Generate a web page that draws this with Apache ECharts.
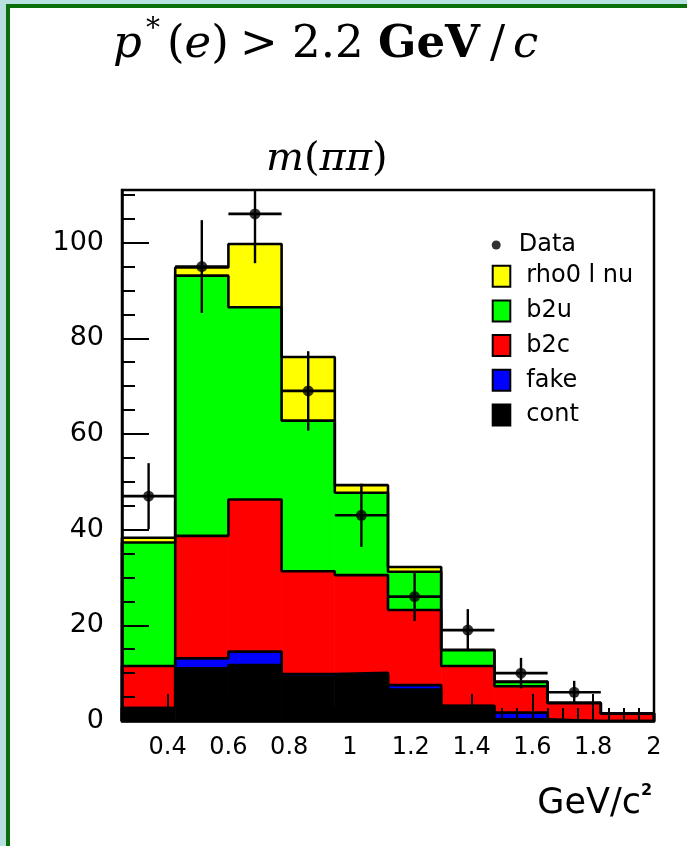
<!DOCTYPE html>
<html><head><meta charset="utf-8">
<script src="https://cdn.jsdelivr.net/npm/echarts@6/dist/echarts.min.js"></script>
<style>html,body{margin:0;padding:0;background:#fff}#c{width:687px;height:846px}</style>
</head><body><div id="c"></div>
<script>
// ---- data ----
const binEdges   = [0.25, 0.425, 0.6, 0.775, 0.95, 1.125, 1.3, 1.475, 1.65, 1.825, 2.0];
const cont       = [2.7, 11.0, 11.7, 9.3, 9.6, 6.6, 3.1, 0.35, 0, 0];
const fake       = [0, 2.1, 2.8, 0.5, 0.5, 0.9, 0.1, 1.4, 0, 0];
const b2c        = [8.8, 25.6, 31.8, 21.5, 20.4, 15.7, 8.3, 5.5, 3.7, 1.6];
const b2u        = [25.8, 54.4, 40.2, 31.5, 17.2, 8.0, 3.3, 0.9, 0.1, 0];
const rho0lnu    = [1.0, 1.7, 13.2, 13.3, 1.6, 1.0, 0.1, 0.1, 0, 0];
const dataCounts = [47, 95, 106, 69, 43, 26, 19, 10, 6, null];
const dataErrors = [6.9, 9.7, 10.3, 8.3, 6.6, 5.1, 4.4, 3.2, 2.4, null];
const xTickLabels = [0.4, 0.6, 0.8, 1.0, 1.2, 1.4, 1.6, 1.8, 2.0];
const xMinorTicks = [0.3, 0.35, 0.45, 0.5, 0.55, 0.65, 0.7, 0.75, 0.85, 0.9, 0.95, 1.05, 1.1, 1.15,
                     1.25, 1.3, 1.35, 1.45, 1.5, 1.55, 1.65, 1.7, 1.75, 1.85, 1.9, 1.95];
const yTickLabels = [0, 20, 40, 60, 80, 100];
const yMinorTicks = [5, 10, 15, 25, 30, 35, 45, 50, 55, 65, 70, 75, 85, 90, 95, 105, 110];
const X_MIN = 0.25, X_MAX = 2.0, Y_MIN = 0, Y_MAX = 111;

const components = [
  {name: 'cont',      vals: cont,    color: '#000000'},
  {name: 'fake',      vals: fake,    color: '#0000ff'},
  {name: 'b2c',       vals: b2c,     color: '#ff0000'},
  {name: 'b2u',       vals: b2u,     color: '#00ff00'},
  {name: 'rho0 l nu', vals: rho0lnu, color: '#ffff00'}
];

const nBins = binEdges.length - 1;
const series = [];
let base = new Array(nBins).fill(0);
const levels = [];
components.forEach(function (c) {
  const top = base.map(function (b, i) { return b + c.vals[i]; });
  const items = [];
  for (let i = 0; i < nBins; i++) items.push([binEdges[i], binEdges[i + 1], base[i], top[i]]);
  series.push({
    type: 'custom', name: c.name, z: 2,
    itemStyle: {color: c.color},
    encode: {x: [0, 1], y: [2, 3]},
    data: items,
    renderItem: function (params, api) {
      const xl = api.value(0), xh = api.value(1), lo = api.value(2), hi = api.value(3);
      if (hi <= lo) return null;
      const p1 = api.coord([xl, hi]), p2 = api.coord([xh, lo]);
      const col = api.visual('color');
      return {type: 'rect', shape: {x: p1[0], y: p1[1], width: p2[0] - p1[0], height: p2[1] - p1[1]},
              style: {fill: col, stroke: col, lineWidth: 0.8}};
    }
  });
  levels.push(top);
  base = top;
});

// step outlines of each cumulative level
levels.forEach(function (top) {
  const pts = [[binEdges[0], 0]];
  for (let i = 0; i < nBins; i++) pts.push([binEdges[i], top[i]]);
  pts.push([binEdges[nBins], 0]);
  series.push({
    type: 'line', step: 'end', data: pts, symbol: 'none', z: 3, silent: true,
    lineStyle: {color: '#000', width: 2.6}
  });
});

// data points and error bars
const pts = [], errs = [];
for (let i = 0; i < nBins; i++) {
  if (dataCounts[i] == null) continue;
  const xc = (binEdges[i] + binEdges[i + 1]) / 2;
  pts.push([xc, dataCounts[i]]);
  errs.push([xc, dataCounts[i], dataErrors[i], binEdges[i], binEdges[i + 1]]);
}
series.push({
  type: 'custom', z: 4, silent: true,
  encode: {x: 0, y: 1},
  data: errs,
  renderItem: function (params, api) {
    const xc = api.value(0), y = api.value(1), e = api.value(2), xl = api.value(3), xh = api.value(4);
    const a = api.coord([xc, Math.min(y + e, Y_MAX)]), b = api.coord([xc, Math.max(y - e, Y_MIN)]);
    const l = api.coord([xl, y]), r = api.coord([xh, y]);
    return {type: 'group', children: [
      {type: 'line', shape: {x1: a[0], y1: a[1], x2: b[0], y2: b[1]}, style: {stroke: '#000', lineWidth: 2.4}},
      {type: 'line', shape: {x1: l[0], y1: l[1], x2: r[0], y2: r[1]}, style: {stroke: '#000', lineWidth: 2.6}}
    ]};
  }
});
series.push({
  type: 'scatter', name: 'Data', z: 5, data: pts, symbol: 'circle', symbolSize: 11,
  itemStyle: {color: '#000'}
});

const sans = 'DejaVu Sans', serif = 'DejaVu Serif';
const titleY = 45;
function t(x, y, text, opt) {
  return {type: 'text', x: x, y: y, z: 20, style: Object.assign({
    text: text, fill: '#000', fontFamily: serif, fontSize: 45, align: 'left', verticalAlign: 'middle'
  }, opt || {})};
}

const option = {
  animation: false,
  backgroundColor: '#ffffff',
  grid: {left: 122, top: 190, width: 532, height: 531, show: true, borderColor: '#000', borderWidth: 2.5,
         backgroundColor: 'transparent'},
  xAxis: [
    {type: 'value', min: X_MIN, max: X_MAX, z: 10,
     axisLine: {show: true, onZero: false, lineStyle: {color: '#000', width: 2.5}},
     axisTick: {show: true, inside: true, length: 27, customValues: xTickLabels, lineStyle: {color: '#000', width: 2}},
     axisLabel: {show: true, customValues: xTickLabels, margin: 15, color: '#000', fontFamily: sans, fontSize: 24},
     splitLine: {show: false}},
    {type: 'value', min: X_MIN, max: X_MAX, z: 10, position: 'bottom',
     axisLine: {show: false},
     axisTick: {show: true, inside: true, length: 13, customValues: xMinorTicks, lineStyle: {color: '#000', width: 2}},
     axisLabel: {show: false}, splitLine: {show: false}}
  ],
  yAxis: [
    {type: 'value', min: Y_MIN, max: Y_MAX, z: 10,
     axisLine: {show: true, onZero: false, lineStyle: {color: '#000', width: 2.5}},
     axisTick: {show: true, inside: true, length: 27, customValues: yTickLabels, lineStyle: {color: '#000', width: 2}},
     axisLabel: {show: true, customValues: yTickLabels, margin: 18, color: '#000', fontFamily: sans, fontSize: 27},
     splitLine: {show: false}},
    {type: 'value', min: Y_MIN, max: Y_MAX, z: 10, position: 'left',
     axisLine: {show: false},
     axisTick: {show: true, inside: true, length: 13, customValues: yMinorTicks, lineStyle: {color: '#000', width: 2}},
     axisLabel: {show: false}, splitLine: {show: false}}
  ],
  legend: [
    {data: [{name: 'Data', icon: 'circle'}], orient: 'vertical', left: 491.7, top: 233, padding: 0,
     itemWidth: 35, itemHeight: 9, selectedMode: false,
     textStyle: {fontFamily: sans, fontSize: 24, color: '#000'}},
    {data: ['rho0 l nu', 'b2u', 'b2c', 'fake', 'cont'], orient: 'vertical', left: 491.7, top: 264.2, padding: 0,
     itemWidth: 17.6, itemHeight: 21, itemGap: 10.7, icon: 'rect', selectedMode: false,
     itemStyle: {borderColor: '#000', borderWidth: 2},
     textStyle: {fontFamily: sans, fontSize: 24, color: '#000', lineHeight: 21, padding: [0, 0, 0, 11]}}
  ],
  graphic: [
    {type: 'rect', shape: {x: 0, y: 0, width: 687, height: 4}, style: {fill: '#b8e0e0'}},
    {type: 'rect', shape: {x: 0, y: 0, width: 6, height: 846}, style: {fill: '#b8e0e0'}},
    {type: 'rect', shape: {x: 6, y: 4, width: 681, height: 4}, style: {fill: '#0a6e0a'}},
    {type: 'rect', shape: {x: 6, y: 4, width: 4, height: 842}, style: {fill: '#0a6e0a'}},
    t(113, titleY, 'p', {fontStyle: 'italic'}),
    t(146, 30, '*', {fontSize: 28}),
    t(167, titleY, '{n|(}{i|e}{n|)}', {rich: {n: {fontFamily: serif, fontSize: 45}, i: {fontFamily: serif, fontSize: 45, fontStyle: 'italic'}}}),
    t(240, titleY, '>'),
    t(292, titleY, '2.2'),
    t(378, titleY, 'GeV', {fontWeight: 'bold'}),
    t(490, titleY, '/'),
    t(513, titleY, 'c', {fontStyle: 'italic'}),
    t(266, 160, '{i|m}{n|(}{i|ππ}{n|)}', {rich: {n: {fontFamily: serif, fontSize: 40}, i: {fontFamily: serif, fontSize: 40, fontStyle: 'italic'}}}),
    {type: 'text', x: 641, y: 804, z: 20, style: {text: 'GeV/c', fill: '#000', fontFamily: sans, fontSize: 35, align: 'right', verticalAlign: 'middle'}},
    {type: 'text', x: 641, y: 791, z: 20, style: {text: '2', fill: '#000', fontFamily: sans, fontSize: 16, fontWeight: 'bold', align: 'left', verticalAlign: 'middle'}}
  ],
  series: series
};

const chart = echarts.init(document.getElementById('c'), null, {renderer: 'canvas'});
chart.setOption(option);
</script>
</body></html>
